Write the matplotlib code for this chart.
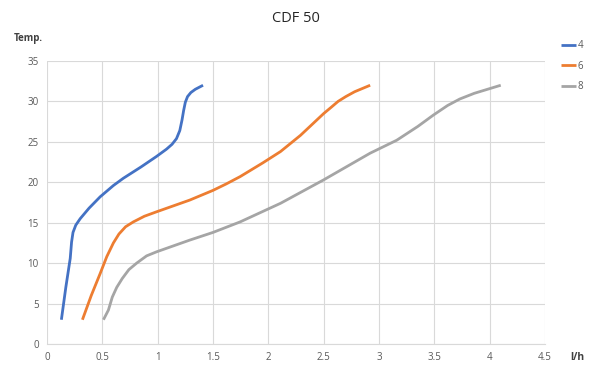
import matplotlib
matplotlib.use("Agg")
import matplotlib.pyplot as plt

plt.rcParams['font.family'] = ['Open Sans', 'DejaVu Sans']

x4 = [0.13, 0.17, 0.21, 0.222, 0.235, 0.26, 0.30, 0.38, 0.48, 0.60, 0.69, 0.85, 0.99, 1.08, 1.13, 1.17, 1.20, 1.22, 1.235, 1.25, 1.27, 1.30, 1.34, 1.41]
y4 = [3.0, 7.0, 10.6, 12.6, 13.8, 14.7, 15.5, 16.8, 18.2, 19.6, 20.5, 21.9, 23.2, 24.1, 24.7, 25.4, 26.4, 27.7, 28.9, 29.9, 30.6, 31.1, 31.5, 32.0]

x6 = [0.32, 0.40, 0.48, 0.54, 0.60, 0.65, 0.71, 0.78, 0.88, 0.99, 1.29, 1.50, 1.62, 1.745, 1.95, 2.11, 2.29, 2.50, 2.57, 2.63, 2.70, 2.78, 2.92]
y6 = [3.0, 6.0, 8.7, 10.8, 12.5, 13.6, 14.5, 15.1, 15.8, 16.35, 17.8, 19.0, 19.8, 20.7, 22.4, 23.8, 25.8, 28.5, 29.3, 30.0, 30.6, 31.2, 32.0]

x8 = [0.51, 0.555, 0.59, 0.63, 0.68, 0.74, 0.81, 0.90, 0.99, 1.29, 1.50, 1.745, 2.11, 2.50, 2.92, 3.16, 3.35, 3.49, 3.62, 3.73, 3.86, 3.98, 4.10]
y8 = [3.0, 4.2, 5.8, 7.0, 8.1, 9.2, 10.0, 10.9, 11.4, 12.85, 13.8, 15.1, 17.4, 20.3, 23.6, 25.2, 26.9, 28.3, 29.5, 30.3, 31.0, 31.5, 32.0]

labels = ['4', '6', '8']
colors = ['#4472C4', '#ED7D31', '#A5A5A5']

fig = plt.figure(figsize=(5.92, 3.69), dpi=100)
ax = fig.add_axes([47/592, 25/369, (545-47)/592, (344-61)/369])

for xs, ys, lab, c in zip([x4, x6, x8], [y4, y6, y8], labels, colors):
    ax.plot(xs, ys, color=c, lw=2.0, label=lab, solid_capstyle='butt', solid_joinstyle='round')

ax.set_xlim(0, 4.5)
ax.set_ylim(0, 35)
ax.set_xticks([0, 0.5, 1, 1.5, 2, 2.5, 3, 3.5, 4, 4.5])
ax.set_xticklabels(['0', '0.5', '1', '1.5', '2', '2.5', '3', '3.5', '4', '4.5'])
ax.set_yticks(range(0, 36, 5))
ax.grid(True, color='#D9D9D9', lw=0.8)
ax.set_axisbelow(True)
for s in ['top', 'right', 'left']:
    ax.spines[s].set_visible(False)
ax.spines['bottom'].set_color('#D9D9D9')
ax.tick_params(length=0, labelsize=7, colors='#595959', pad=6)

fig.text(0.5, 1 - 18/369, 'CDF 50', ha='center', va='center', fontsize=10.5, color='#262626')
fig.text(14/592, 1 - 38/369, 'Temp.', ha='left', va='center', fontsize=7, fontweight='bold', color='#404040')
fig.text(570/592, 1 - 358/369, 'l/h', ha='left', va='center', fontsize=7.5, fontweight='bold', color='#404040')

leg = fig.legend(loc='upper left', bbox_to_anchor=(561/592, 1 - 40/369), frameon=False,
                 fontsize=7, handlelength=1.5, handletextpad=0.2, labelspacing=1.0,
                 borderaxespad=0, borderpad=0, labelcolor='#595959')

fig.savefig('out.png', dpi=100)
